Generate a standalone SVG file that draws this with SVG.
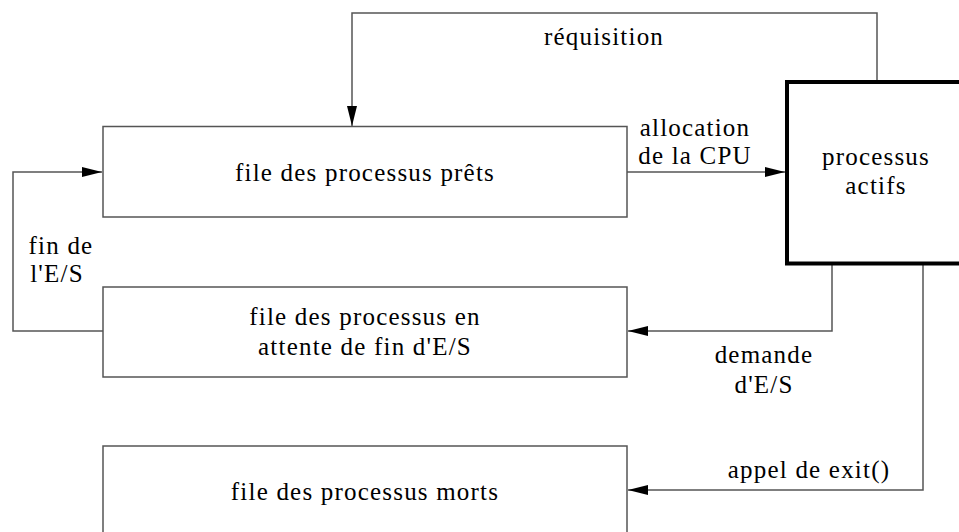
<svg xmlns="http://www.w3.org/2000/svg" width="959" height="532" viewBox="0 0 959 532">
<defs>
<marker id="ah" markerWidth="20" markerHeight="10" refX="20" refY="5" orient="auto" markerUnits="userSpaceOnUse">
<path d="M0,0 L20,5 L0,10 Z" fill="#000"/>
</marker>
<style>
.box{fill:#fff;stroke:#555;stroke-width:1.5}
.active{fill:#fff;stroke:#000;stroke-width:4}
.ln{fill:none;stroke:#555;stroke-width:1.5;marker-end:url(#ah)}
text{font-family:"Liberation Serif","Times New Roman",serif;font-size:25px;letter-spacing:1.2px;fill:#000;text-anchor:middle}
</style>
</defs>
<rect width="959" height="532" fill="#fff"/>
<g id="connectors">
<path class="ln" d="M877,82 V13 H352 V126"/>
<path class="ln" d="M627,172 H785"/>
<path class="ln" d="M832,264 V331 H628"/>
<path class="ln" d="M923,264 V490 H628"/>
<path class="ln" d="M103,331 H13 V172 H102"/>
</g>
<g id="pret">
<rect class="box" x="103" y="126.5" width="524" height="90.5"/>
<text x="365" y="181">file des processus prêts</text>
</g>
<g id="attente">
<rect class="box" x="103" y="287" width="524" height="90"/>
<text x="365" y="325">file des processus en</text>
<text x="365" y="355">attente de fin d'E/S</text>
</g>
<g id="morts">
<rect class="box" x="103" y="446" width="524" height="100"/>
<text x="365" y="500">file des processus morts</text>
</g>
<g id="actifs">
<rect class="active" x="787" y="82" width="180" height="181.5"/>
<text x="876" y="165">processus</text>
<text x="876" y="194">actifs</text>
</g>
<g id="labels">
<text x="604" y="45">réquisition</text>
<text x="695" y="136">allocation</text>
<text x="695" y="164">de la CPU</text>
<text x="61" y="254">fin de</text>
<text x="57" y="282">l'E/S</text>
<text x="764" y="363">demande</text>
<text x="764" y="393">d'E/S</text>
<text x="809" y="478">appel de exit()</text>
</g>
</svg>
